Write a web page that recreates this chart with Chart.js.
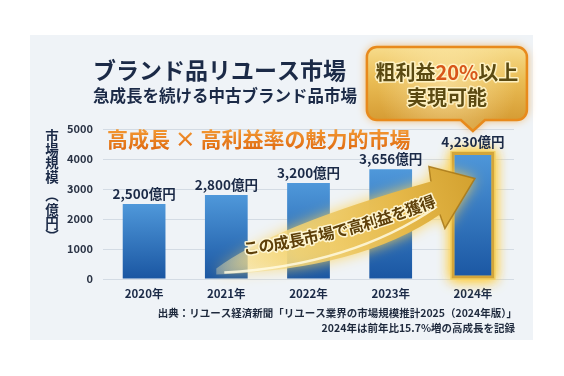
<!DOCTYPE html>
<html><head><meta charset="utf-8">
<script src="https://cdn.jsdelivr.net/npm/chart.js@4.4.1/dist/chart.umd.min.js"></script>
<style>html,body{margin:0;padding:0;background:#fff;}#wrap{width:564px;height:376px;position:relative}</style>
</head><body><div id="wrap"><canvas id="c" width="564" height="376"></canvas></div>
<script>
// ---- data ----
const categories = ['2020年','2021年','2022年','2023年','2024年'];
const marketSize = [2500, 2800, 3200, 3656, 4230];
const valueUnit = '億円';
const yTicks = [0, 1000, 2000, 3000, 4000, 5000];
const highlightIndex = 4;
const titleText = 'ブランド品リユース市場';
const subtitleText = '急成長を続ける中古ブランド品市場';
const headlineText = '高成長 × 高利益率の魅力的市場';
const yAxisTitle = ['市','場','規','模','︵','億','円','︶'];
const arrowText = 'この成長市場で高利益を獲得';
const calloutLine1 = [['粗利益','#5b4a12'],['20%','#d8561a'],['以上','#5b4a12']];
const calloutLine2 = '実現可能';
const sourceText = '出典：リユース経済新聞「リユース業界の市場規模推計2025（2024年版）」';
const noteText = '2024年は前年比15.7%増の高成長を記録';
const arrowFromValue = 250, arrowToValue = 3350;

const FONT = "'Noto Sans CJK JP','Noto Sans',sans-serif";
const f = (size) => 'bold ' + size + 'px ' + FONT;

function barFill(c){
  const ch = c.chart;
  if (!ch.chartArea) return '#2f75c0';
  const y = ch.scales.y;
  const top = y.getPixelForValue(c.raw), bot = y.getPixelForValue(0);
  const g = ch.ctx.createLinearGradient(0, top, 0, bot);
  g.addColorStop(0, '#4f98da');
  g.addColorStop(1, '#1a56a2');
  return g;
}

const bgPlugin = {
  id: 'bg',
  beforeDraw(ch){
    const c = ch.ctx; c.save();
    c.fillStyle = '#ffffff'; c.fillRect(0, 0, ch.width, ch.height);
    c.fillStyle = '#eff3f7'; c.fillRect(30, 35, 503, 305);
    c.restore();
  }
};

const glowPlugin = {
  id: 'glow',
  beforeDatasetsDraw(ch){
    const el = ch.getDatasetMeta(0).data[highlightIndex];
    if (!el) return;
    const c = ch.ctx; c.save();
    c.shadowColor = 'rgba(255,205,60,0.95)'; c.shadowBlur = 12;
    c.fillStyle = '#f1cf62';
    const w = el.width;
    c.fillRect(el.x - w/2 - 1, el.y - 1, w + 2, el.base - el.y + 2);
    c.fillRect(el.x - w/2 - 1, el.y - 1, w + 2, el.base - el.y + 2);
    c.restore();
  }
};

function quad(p0,p1,p2,t){ const u=1-t; return {x:u*u*p0.x+2*u*t*p1.x+t*t*p2.x, y:u*u*p0.y+2*u*t*p1.y+t*t*p2.y}; }

const arrowPlugin = {
  id: 'arrow',
  afterDatasetsDraw(ch){
    const c = ch.ctx, xs = ch.scales.x, ys = ch.scales.y;
    const T = {x: xs.getPixelForValue(1) - 10, y: ys.getPixelForValue(arrowFromValue)};
    const P = {x: xs.getPixelForValue(highlightIndex) + 2, y: ys.getPixelForValue(arrowToValue)};
    const o = (dx,dy) => ({x:P.x+dx, y:P.y+dy});
    const hTop = o(-46,-12), hBot = o(-30,50), sUp = o(-44,3), sLo = o(-35,36);
    const tUp = {x:T.x, y:T.y-3}, tLo = {x:T.x, y:T.y+3};
    const cUp = {x:T.x+56, y:T.y-45}, cLo = {x:T.x+144, y:T.y-2};
    const path = () => {
      c.beginPath(); c.moveTo(tUp.x,tUp.y);
      c.quadraticCurveTo(cUp.x,cUp.y,sUp.x,sUp.y);
      c.lineTo(hTop.x,hTop.y); c.lineTo(P.x,P.y); c.lineTo(hBot.x,hBot.y);
      c.lineTo(sLo.x,sLo.y);
      c.quadraticCurveTo(cLo.x,cLo.y,tLo.x,tLo.y); c.closePath();
    };
    const g = c.createLinearGradient(T.x,T.y,P.x,P.y);
    g.addColorStop(0,'rgba(250,236,180,0.35)');
    g.addColorStop(0.3,'rgba(242,212,120,0.85)');
    g.addColorStop(0.7,'#e6b94a');
    g.addColorStop(1,'#d3a12f');
    c.save();
    c.shadowColor = 'rgba(255,210,80,0.9)'; c.shadowBlur = 14;
    path(); c.fillStyle = g; c.fill();
    c.shadowBlur = 0;
    c.strokeStyle = 'rgba(168,120,24,0.85)'; c.lineWidth = 1.5;
    c.beginPath(); c.moveTo(sUp.x,sUp.y); c.lineTo(hTop.x,hTop.y); c.lineTo(P.x,P.y); c.lineTo(hBot.x,hBot.y); c.lineTo(sLo.x,sLo.y); c.stroke();
    // highlight line
    c.strokeStyle = 'rgba(255,250,225,0.85)'; c.lineWidth = 2.5;
    c.beginPath(); c.moveTo(T.x+8, T.y+1); c.quadraticCurveTo(T.x+135, T.y-6, P.x-38, P.y+28); c.stroke();
    c.restore();

    // text along curve
    const Q0 = {x:T.x+27, y:T.y-23}, Q1 = {x:T.x+124, y:T.y-35}, Q2 = {x:P.x-41, y:P.y+22};
    const N = 200, pts = [], acc = [0];
    for (let i=0;i<=N;i++){ pts.push(quad(Q0,Q1,Q2,i/N)); if(i>0){ acc.push(acc[i-1]+Math.hypot(pts[i].x-pts[i-1].x, pts[i].y-pts[i-1].y)); } }
    const L = acc[N], chars = [...arrowText], n = chars.length;
    c.save(); c.font = f(16); c.textAlign='center'; c.textBaseline='middle';
    c.lineJoin = 'round';
    chars.forEach((chr,i)=>{
      const s = (i+0.5)/n*L; let k=1; while(k<N && acc[k]<s) k++;
      const p = pts[k], q = pts[k-1];
      const ang = Math.atan2(p.y-q.y, p.x-q.x);
      c.save(); c.translate(p.x,p.y); c.rotate(ang);
      c.strokeStyle='rgba(255,248,215,0.95)'; c.lineWidth=3; c.strokeText(chr,0,0);
      c.fillStyle='#5e400a'; c.fillText(chr,0,0);
      c.restore();
    });
    c.restore();

    // value labels
    const meta = ch.getDatasetMeta(0);
    c.save(); c.font = f(13.5); c.fillStyle = '#1b2a47'; c.textAlign='center'; c.textBaseline='middle';
    meta.data.forEach((el,i)=>{
      c.fillText(marketSize[i].toLocaleString('en-US') + valueUnit, el.x, el.y - 10);
    });
    c.restore();
  }
};

const textPlugin = {
  id: 'texts',
  afterDraw(ch){
    const c = ch.ctx, xs = ch.scales.x;
    c.save();
    c.textBaseline = 'middle';
    // title
    c.fillStyle = '#1b2a47'; c.textAlign = 'left';
    c.font = f(23); c.fillText(titleText, 93, 70);
    c.font = f(16.5); c.fillText(subtitleText, 93, 96);
    // headline
    const hg = c.createLinearGradient(0,129,0,149);
    hg.addColorStop(0,'#f39a34'); hg.addColorStop(1,'#e06c12');
    c.font = f(21); c.fillStyle = hg; c.fillText(headlineText, 107, 139);
    // y-axis title
    c.fillStyle = '#1b2a47'; c.textAlign='center'; c.font = f(13.5);
    const yp = [136,149.5,163,176.5,195,210,222.5,236];
    yAxisTitle.forEach((ch2,i)=>{ c.fillText(ch2, 52, yp[i]); });
    // footer
    c.textAlign='right'; c.font = f(10.5); c.fillStyle='#1f2a3d';
    c.fillText(sourceText, 517, 313);
    c.fillText(noteText, 515, 328);

    // callout
    const tipX = xs.getPixelForValue(highlightIndex), tipY = 131;
    const bx = tipX-106, by = 47, bw = 160, bh = 73, r = 10;
    const cpath = () => {
      c.beginPath();
      c.moveTo(bx+r,by); c.lineTo(bx+bw-r,by); c.arcTo(bx+bw,by,bx+bw,by+r,r);
      c.lineTo(bx+bw,by+bh-r); c.arcTo(bx+bw,by+bh,bx+bw-r,by+bh,r);
      c.lineTo(tipX+12,by+bh); c.lineTo(tipX,tipY); c.lineTo(tipX-12,by+bh);
      c.lineTo(bx+r,by+bh); c.arcTo(bx,by+bh,bx,by+bh-r,r);
      c.lineTo(bx,by+r); c.arcTo(bx,by,bx+r,by,r); c.closePath();
    };
    const cg = c.createLinearGradient(0,by,0,by+bh);
    cg.addColorStop(0,'#f7dc8c'); cg.addColorStop(0.45,'#eabd55'); cg.addColorStop(1,'#d69c34');
    c.save(); c.shadowColor='rgba(240,150,30,0.75)'; c.shadowBlur=10;
    cpath(); c.fillStyle=cg; c.fill(); c.restore();
    const rg = c.createRadialGradient(bx+bw/2, by+bh/2, 4, bx+bw/2, by+bh/2, 70);
    rg.addColorStop(0,'rgba(255,240,190,0.55)'); rg.addColorStop(1,'rgba(255,240,190,0)');
    cpath(); c.fillStyle=rg; c.fill();
    cpath(); c.strokeStyle='#e88a1c'; c.lineWidth=2.5; c.stroke();

    c.font = f(20); c.textAlign='left'; c.lineJoin='round';
    const cx = bx + bw/2;
    const widths = calloutLine1.map(s=>c.measureText(s[0]).width);
    let x = cx - widths.reduce((a,b)=>a+b,0)/2;
    calloutLine1.forEach((s,i)=>{
      c.strokeStyle='rgba(255,244,200,0.9)'; c.lineWidth=3; c.strokeText(s[0],x,72);
      c.fillStyle=s[1]; c.fillText(s[0],x,72); x+=widths[i];
    });
    c.textAlign='center';
    c.strokeStyle='rgba(255,244,200,0.9)'; c.lineWidth=3; c.strokeText(calloutLine2,cx,97);
    c.fillStyle='#5b4a12'; c.fillText(calloutLine2,cx,97);
    c.restore();
  }
};

new Chart(document.getElementById('c').getContext('2d'), {
  type: 'bar',
  data: {
    labels: categories,
    datasets: [{
      data: marketSize,
      backgroundColor: barFill,
      borderColor: (c) => c.dataIndex === highlightIndex ? '#d3a53a' : 'rgba(0,0,0,0)',
      borderWidth: (c) => c.dataIndex === highlightIndex ? 3 : 0,
      borderSkipped: false,
      barPercentage: 0.52,
      categoryPercentage: 1
    }]
  },
  options: {
    responsive: false,
    animation: false,
    devicePixelRatio: 1,
    layout: { padding: { left: 53, right: 50, top: 129, bottom: 67 } },
    plugins: { legend: { display: false }, tooltip: { enabled: false } },
    scales: {
      x: {
        grid: { display: false, drawTicks: false },
        border: { display: false },
        ticks: { font: { family: FONT, size: 11.5, weight: 'bold' }, color: '#1b2a47', padding: 8 },
        afterFit(s){ s.height = 30; }
      },
      y: {
        min: 0, max: 5000,
        afterBuildTicks(s){ s.ticks = yTicks.map(v => ({ value: v })); },
        grid: { color: '#d3dbe4', drawTicks: false },
        border: { display: false },
        ticks: { font: { family: FONT, size: 11, weight: 'bold' }, color: '#2a3345', padding: 10, callback: (v) => String(v) },
        afterFit(s){ s.width = 50; }
      }
    }
  },
  plugins: [bgPlugin, glowPlugin, arrowPlugin, textPlugin]
});
</script>
</body></html>
